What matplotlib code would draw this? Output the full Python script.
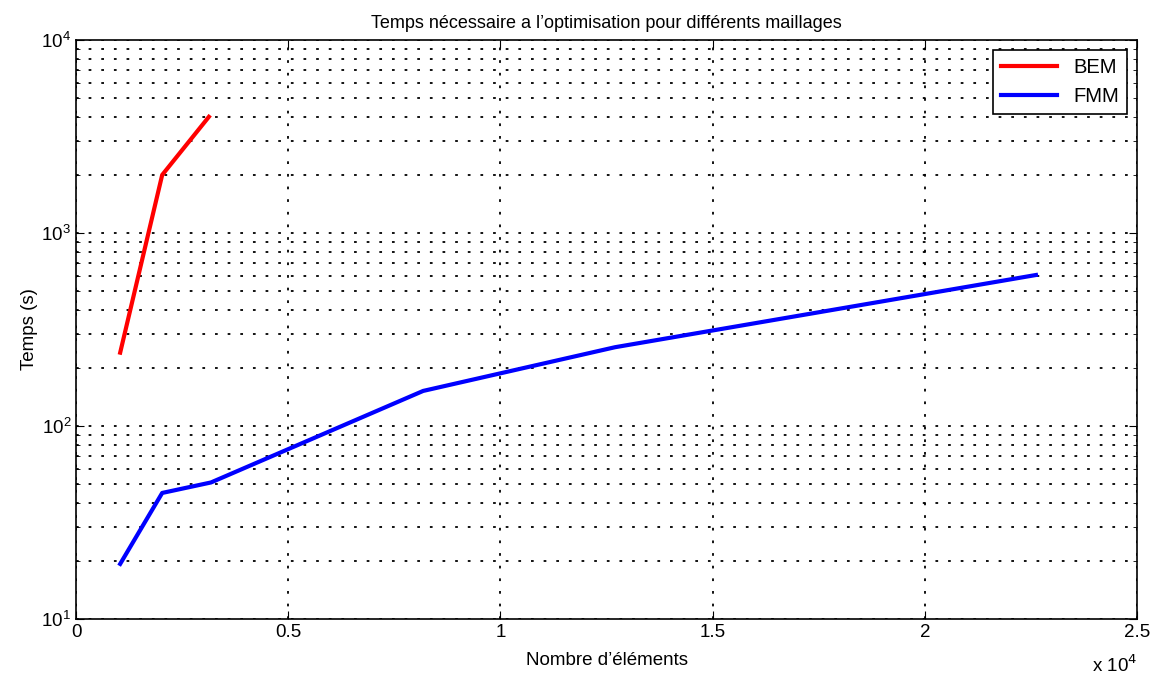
import matplotlib
matplotlib.use("Agg")
import matplotlib.pyplot as plt
from matplotlib.ticker import FuncFormatter, LogLocator

plt.rcParams['font.family'] = ['Liberation Sans', 'DejaVu Sans']

# données
bem_n = [1040, 2030, 3130]
bem_t = [240, 2000, 4000]
fmm_n = [1040, 2030, 3180, 8180, 12700, 22620]
fmm_t = [19.3, 45, 51, 152, 256, 606]

fig = plt.figure(figsize=(11.61, 6.84), dpi=100)
ax = fig.add_axes([0.0655, 0.095, 0.9138, 0.8465])

ax.plot(bem_n, bem_t, color=(1, 0, 0), lw=3, label='BEM')
ax.plot(fmm_n, fmm_t, color=(0, 0, 1), lw=3, label='FMM')

ax.set_yscale('log')
ax.set_xlim(0, 25000)
ax.set_ylim(10, 1e4)
ax.set_xticks([0, 5000, 10000, 15000, 20000, 25000])
ax.xaxis.set_major_formatter(FuncFormatter(lambda v, p: '%g' % (v / 1e4)))
ax.yaxis.set_minor_locator(LogLocator(base=10, subs=range(2, 10)))
ax.yaxis.set_minor_formatter(FuncFormatter(lambda v, p: ''))

dots = (0, (1.5, 5.5))
ax.grid(True, which='major', color='black', linestyle=dots, lw=1.3)
ax.grid(True, which='minor', axis='y', color='black', linestyle=dots, lw=1.3)
ax.tick_params(which='both', direction='in', top=True, right=True, labelsize=13.5)
ax.tick_params(which='major', length=6)
ax.tick_params(which='minor', length=3)
for s in ax.spines.values():
    s.set_linewidth(1.2)

ax.set_title('Temps nécessaire a l’optimisation pour différents maillages', fontsize=13, pad=9)
ax.set_xlabel('Nombre d’éléments', fontsize=13.5, labelpad=8)
ax.set_ylabel('Temps (s)', fontsize=13.5, labelpad=2)
fig.text(0.96, 0.018, r'x 10$^4$', fontsize=13.5, ha='center')

leg = ax.legend(loc='upper right', fontsize=14.5, fancybox=False, framealpha=1,
                edgecolor='black', handlelength=2.8, borderaxespad=0.5)
leg.get_frame().set_linewidth(1.2)

fig.savefig('out.png', dpi=100)
